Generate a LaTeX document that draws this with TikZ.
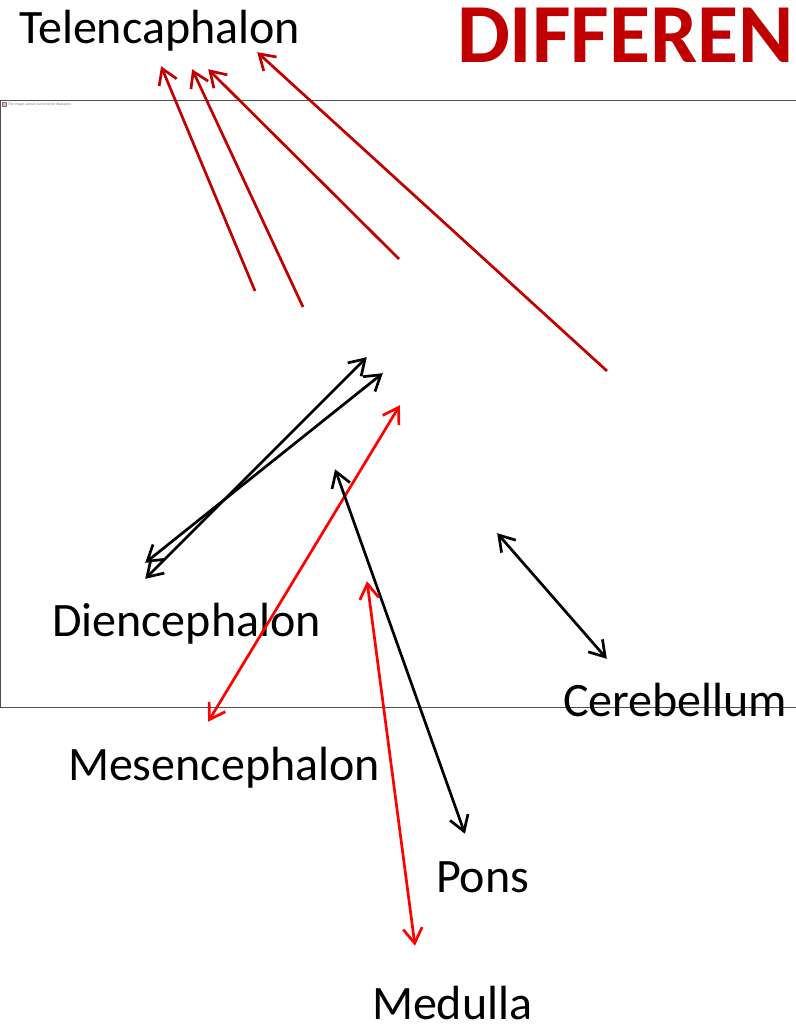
\documentclass[tikz,border=0pt]{standalone}
\usepackage{fontspec}
\setmainfont{Carlito}
\definecolor{darkred}{RGB}{192,0,0}
\definecolor{framegray}{RGB}{80,80,80}
\pgfarrowsdeclare{barbv}{barbv}{\pgfarrowsleftextend{-16pt}\pgfarrowsrightextend{2.8pt}}{%
  \pgfsetdash{}{0pt}\pgfsetmiterjoin\pgfsetbuttcap
  \pgfpathmoveto{\pgfqpoint{-15pt}{9.5pt}}%
  \pgfpathlineto{\pgfqpoint{0pt}{0pt}}%
  \pgfpathlineto{\pgfqpoint{-15pt}{-9.5pt}}%
  \pgfusepathqstroke}
\tikzset{
  x=1pt,y=-1pt,
  lbl/.style={anchor=base west,inner sep=0pt,outer sep=0pt,font=\fontsize{48}{54}\selectfont,text=black},
  ttl/.style={anchor=base west,inner sep=0pt,outer sep=0pt,font=\fontsize{84}{92}\selectfont\bfseries,text=darkred},
  tip/.style={line width=2.7pt},
  onehead/.style={tip,-barbv},
  twohead/.style={tip,barbv-barbv},
}
\begin{document}
\begin{tikzpicture}
\useasboundingbox (0,0) rectangle (795,1024);
\node[draw=framegray,line width=1pt,minimum width=800pt,minimum height=607pt,anchor=north west,inner sep=0pt,outer sep=0pt] (frame) at (0.5,100.5) {};
\node[anchor=base west,inner sep=0pt,font=\fontsize{3.8}{4}\selectfont,text=gray] (msg) at (8,106) {The image cannot currently be displayed.};
\node[draw=gray,fill=red!35,line width=0.3pt,minimum size=4pt,inner sep=0pt,anchor=north west] (ico) at (2,102.5) {};
\node[lbl] (tele) at (19,43.5) {Telencaphalon};
\node[ttl] (title) at (457,63) {DIFFEREN};
\node[lbl] (dien) at (52,636) {Diencephalon};
\node[lbl] (cere) at (563,716) {Cerebellum};
\node[lbl] (mese) at (68,780) {Mesencephalon};
\node[lbl] (pons) at (436,892) {Pons};
\node[lbl] (medu) at (372,1019.5) {Medulla};
\coordinate (r1a) at (255,291); \coordinate (r1b) at (161,66);
\coordinate (r2a) at (303,307); \coordinate (r2b) at (192,69);
\coordinate (r3a) at (399,259); \coordinate (r3b) at (208,69);
\coordinate (r4a) at (607,371); \coordinate (r4b) at (257,52);
\coordinate (k1a) at (367,357); \coordinate (k1b) at (145,579);
\coordinate (k2a) at (383,373); \coordinate (k2b) at (145,563);
\coordinate (m1a) at (400,405); \coordinate (m1b) at (208,722);
\coordinate (p1a) at (335,469); \coordinate (p1b) at (465,834);
\coordinate (d1a) at (367,581); \coordinate (d1b) at (415,946);
\coordinate (c1a) at (497,533); \coordinate (c1b) at (607,659);
\draw[onehead,darkred] (r1a) -- (r1b);
\draw[onehead,darkred] (r2a) -- (r2b);
\draw[onehead,darkred] (r3a) -- (r3b);
\draw[onehead,darkred] (r4a) -- (r4b);
\draw[twohead,black] (k1a) -- (k1b);
\draw[twohead,black] (k2a) -- (k2b);
\draw[twohead,red] (m1a) -- (m1b);
\draw[twohead,black] (p1a) -- (p1b);
\draw[twohead,red] (d1a) -- (d1b);
\draw[twohead,black] (c1a) -- (c1b);
\end{tikzpicture}
\end{document}
